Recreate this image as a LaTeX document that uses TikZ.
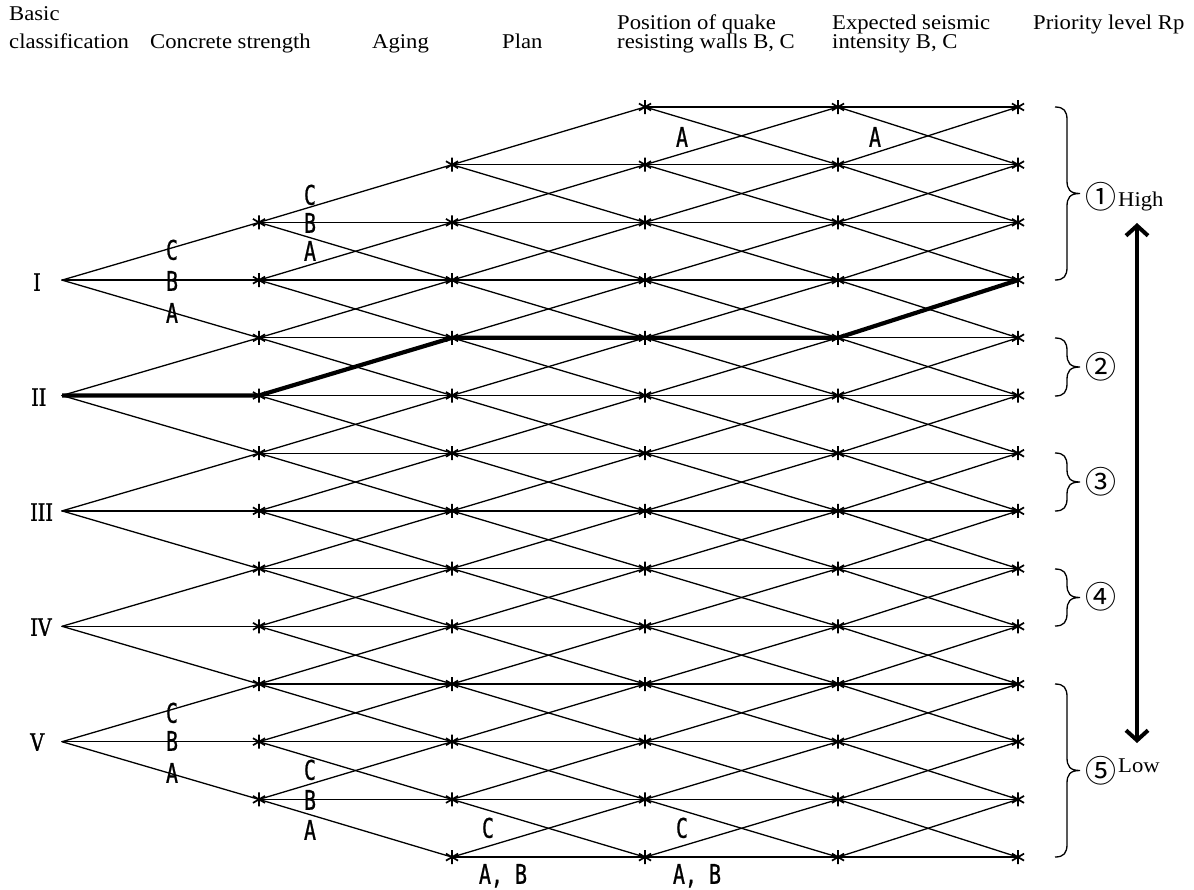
\documentclass[tikz,border=0pt]{standalone}
\usepackage{fontspec}
\setmainfont{Liberation Serif}[FakeStretch=1.08]
\newfontfamily\gothicfont{DejaVu Sans Mono}[FakeStretch=0.74,FakeBold=0.8]
\newfontfamily\romanfont{DejaVu Serif}[FakeStretch=0.8,FakeBold=1.2]
\newfontfamily\cjkfont{Noto Sans CJK JP}
\usetikzlibrary{arrows.meta}

% six-armed mark drawn on a lattice point
\newcommand\nodestar[1]{\draw[starmark] (#1) +(90:7) -- +(270:7) +(30:7) -- +(210:7) +(150:7) -- +(330:7);}
% right curly brace: x, top y, bottom y
\newcommand\curlybrace[3]{%
  \pgfmathsetmacro\ym{(#2+#3)/2}%
  \draw[bracestroke] (#1,#2) .. controls (#1+9,#2) and (#1+12,#2+4) .. (#1+12,#2+13)
    -- (#1+12,\ym-13) .. controls (#1+12,\ym-4) and (#1+15,\ym) .. (#1+25,\ym)
    .. controls (#1+15,\ym) and (#1+12,\ym+4) .. (#1+12,\ym+13)
    -- (#1+12,#3-13) .. controls (#1+12,#3-4) and (#1+9,#3) .. (#1,#3);}

\begin{document}
\begin{tikzpicture}[x=1pt,y=-1pt,
  link/.style={line width=1.3pt, line cap=round},
  route/.style={line width=4.2pt, line join=round},
  starmark/.style={line width=1.7pt},
  headtext/.style={font=\fontsize{21}{24}\selectfont, anchor=base west, inner sep=0pt},
  choice/.style={font=\gothicfont\fontsize{27}{27}\selectfont, inner sep=0pt, text height=19.5pt, text depth=0pt},
  grade/.style={font=\romanfont\fontsize{24}{24}\selectfont, inner sep=0pt, anchor=west},
  ranklabel/.style={font=\cjkfont\fontsize{31}{31}\selectfont, inner sep=0pt},
  bracestroke/.style={line width=1.3pt},
  rankarrow/.style={line width=4pt, {Straight Barb[length=10pt,width=22pt]}-{Straight Barb[length=10pt,width=22pt]}},
]
\useasboundingbox (0,0) rectangle (1194,889);

% column headings
\node[headtext] (h0a) at (9,20) {Basic};
\node[headtext] (h0b) at (9,48) {classification};
\node[headtext] (h1) at (150,48) {Concrete strength};
\node[headtext] (h2) at (372,48) {Aging};
\node[headtext] (h3) at (502,48) {Plan};
\node[headtext] (h4a) at (617,29) {Position of quake};
\node[headtext] (h4b) at (617,48) {resisting walls B, C};
\node[headtext] (h5a) at (832,29) {Expected seismic};
\node[headtext] (h5b) at (832,48) {intensity B, C};
\node[headtext] (h6) at (1033,29) {Priority level Rp};

% lattice points
\foreach \r in {3,5,7,9,11} \coordinate (n0-\r) at (62,107+57.7*\r);
\foreach \r in {2,...,12} \coordinate (n1-\r) at (259,107+57.7*\r);
\foreach \r in {1,...,13} \coordinate (n2-\r) at (452,107+57.7*\r);
\foreach \c/\x in {3/645,4/838,5/1018}
  \foreach \r in {0,...,13} \coordinate (n\c-\r) at (\x,107+57.7*\r);

% basic classes
\node[grade] (cls1) at (33,282) {I};
\node[grade] (cls2) at (31,397) {II};
\node[grade] (cls3) at (30,512) {III};
\node[grade] (cls4) at (30,627) {IV};
\node[grade] (cls5) at (30,742) {V};

% branches from the basic classes
\foreach \r in {3,5,7,9,11}
  \foreach \s in {-1,0,1} {
    \pgfmathtruncatemacro\t{\r+\s}
    \draw[link] (n0-\r) -- (n1-\t);
  }

% branches between the later stages
\foreach \c/\d/\lo/\hi in {1/2/2/12, 2/3/1/13, 3/4/0/13, 4/5/0/13}
  \foreach \r in {\lo,...,\hi}
    \foreach \s in {-1,0,1} {
      \pgfmathtruncatemacro\t{\r+\s}
      \ifnum\t>-1 \ifnum\t<14 \draw[link] (n\c-\r) -- (n\d-\t); \fi\fi
    }

% example path
\draw[route] (n0-5) -- (n1-5) -- (n2-4) -- (n3-4) -- (n4-4) -- (n5-3);

% marks on the lattice points
\foreach \c/\lo/\hi in {1/2/12, 2/1/13, 3/0/13, 4/0/13, 5/0/13}
  \foreach \r in {\lo,...,\hi} {\nodestar{n\c-\r}}

% branch grades
\node[choice] (a1c) at (172,250) {C};
\node[choice] (a1b) at (172,281) {B};
\node[choice] (a1a) at (172,313) {A};
\node[choice] (a2c) at (310,195) {C};
\node[choice] (a2b) at (310,223) {B};
\node[choice] (a2a) at (310,251) {A};
\node[choice] (a3c) at (172,713) {C};
\node[choice] (a3b) at (172,741) {B};
\node[choice] (a3a) at (172,773) {A};
\node[choice] (a4c) at (310,770) {C};
\node[choice] (a4b) at (310,800) {B};
\node[choice] (a4a) at (310,830) {A};
\node[choice] (a5a) at (682,137) {A};
\node[choice] (a6a) at (875,137) {A};
\node[choice] (a7c) at (488,828) {C};
\node[choice] (a7ab) at (503,874) {A, B};
\node[choice] (a8c) at (682,828) {C};
\node[choice] (a8ab) at (697,874) {A, B};

% priority levels
\curlybrace{1055}{107}{280}
\curlybrace{1055}{338}{396}
\curlybrace{1055}{453}{511}
\curlybrace{1055}{569}{626}
\curlybrace{1055}{684}{857}
\node[ranklabel] (p1) at (1101,197) {①};
\node[ranklabel] (p2) at (1101,367) {②};
\node[ranklabel] (p3) at (1101,482) {③};
\node[ranklabel] (p4) at (1101,597) {④};
\node[ranklabel] (p5) at (1101,771) {⑤};
\node[headtext] (hi) at (1118,206) {High};
\node[headtext] (lo) at (1118,772) {Low};

% high-low scale
\coordinate (sc-top) at (1137,223);
\coordinate (sc-bot) at (1137,743);
\draw[rankarrow] (sc-top) -- (sc-bot);
\end{tikzpicture}
\end{document}
